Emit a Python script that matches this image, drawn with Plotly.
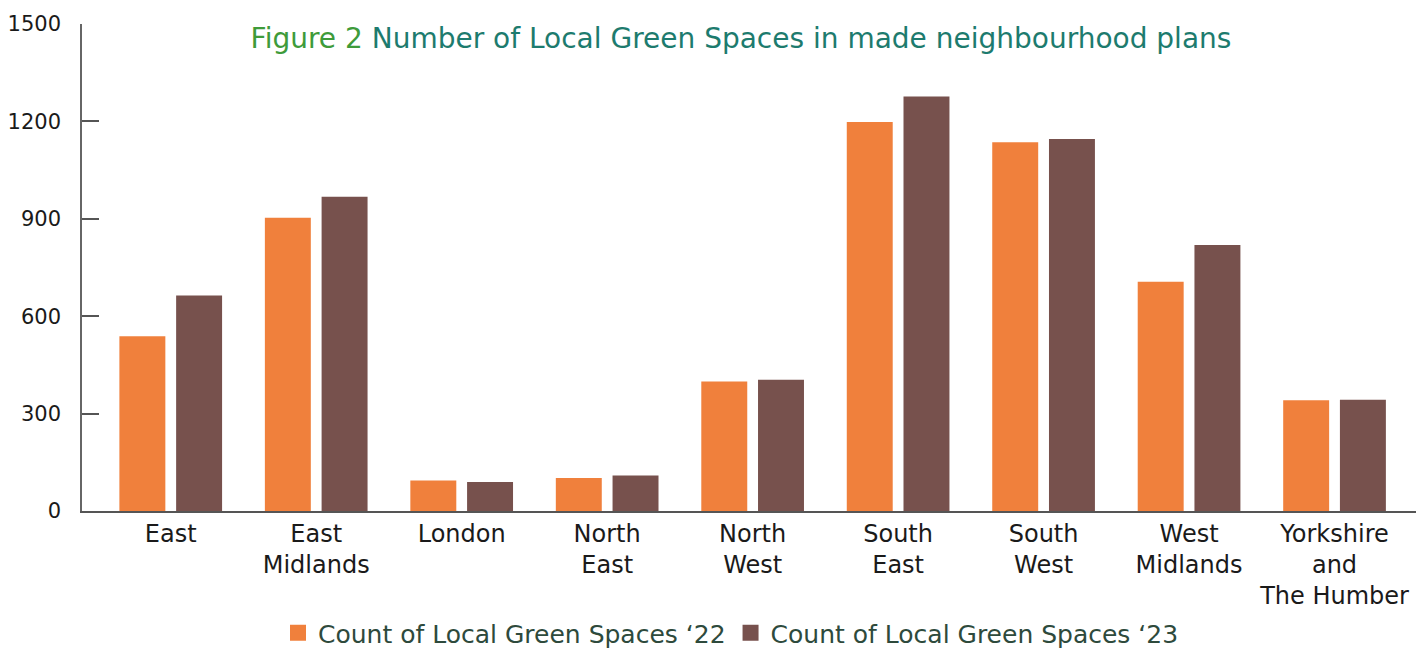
import plotly.graph_objects as go

regions = ["East", "East<br>Midlands", "London", "North<br>East", "North<br>West",
           "South<br>East", "South<br>West", "West<br>Midlands", "Yorkshire<br>and<br>The Humber"]
count_22 = [538, 903, 94, 102, 399, 1198, 1136, 706, 341]
count_23 = [664, 968, 89, 109, 404, 1277, 1146, 819, 343]
y_ticks = [0, 300, 600, 900, 1200, 1500]
series_names = ["Count of Local Green Spaces \u201822", "Count of Local Green Spaces \u201823"]
series_colors = ["#F0803C", "#77514D"]

FONT = "DejaVu Sans"

fig = go.Figure()
for vals, name, col in zip([count_22, count_23], series_names, series_colors):
    fig.add_trace(go.Bar(x=regions, y=vals, name=name, showlegend=False,
                         marker=dict(color=col, line=dict(width=0))))
# legend entries with larger square swatches
for name, col in zip(series_names, series_colors):
    fig.add_trace(go.Scatter(x=[None], y=[None], mode="markers", name=name,
                             marker=dict(symbol="square", size=22, color=col)))

fig.update_layout(
    width=1428, height=651,
    margin=dict(l=82, r=12, t=24, b=140, autoexpand=False),
    paper_bgcolor="white", plot_bgcolor="white",
    barmode="group", bargap=0.22, bargroupgap=0.19,
    font=dict(family=FONT, color="#1a1a1a"),
    title=dict(
        text="<span style='color:#3E9B3A'>Figure 2</span> Number of Local Green Spaces in made neighbourhood plans",
        font=dict(size=28, color="#1D7B6E", family=FONT),
        x=741/1428, xanchor="center", xref="container",
        y=1-38/651, yanchor="middle", yref="container",
    ),
    legend=dict(orientation="h", x=731/1428, xanchor="center", xref="container",
                y=1-633/651, yanchor="middle", yref="container",
                font=dict(size=25, color="#2E4A3C", family=FONT),
                itemsizing="trace", traceorder="normal"),
    showlegend=True,
)
fig.update_xaxes(
    range=[-0.61, 8.56], showline=True, linecolor="#555555", linewidth=1.5,
    ticks="", tickfont=dict(size=24, color="#1a1a1a"), showgrid=False, automargin=False,
)
fig.update_yaxes(
    range=[0, 1500], tickvals=y_ticks, showline=True, linecolor="#666666", linewidth=1.5,
    ticks="inside", ticklen=17, tickcolor="#555555", tickwidth=1.5,
    tickfont=dict(size=21, color="#1a1a1a"), showgrid=False, zeroline=False,
    ticklabelstandoff=15, automargin=False,
)

fig.write_html("out.html")
